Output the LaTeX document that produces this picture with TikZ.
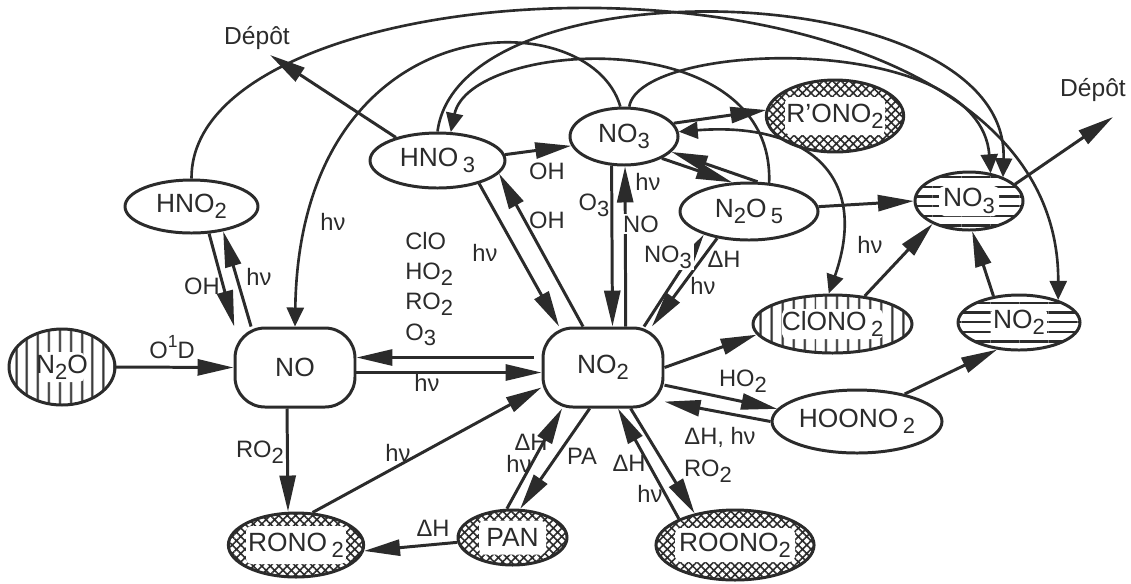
\documentclass[tikz,border=0pt]{standalone}
\usepackage{fontspec}
\setmainfont{Liberation Sans}
\usepackage{tikz}
\usetikzlibrary{arrows.meta, shapes.geometric, patterns.meta}
\definecolor{inkColor}{HTML}{2B2B2B}
\newcommand{\ixlow}[1]{\raisebox{-0.45ex}{\fontsize{12.5}{12.5}\selectfont #1}}
\newcommand{\ixhigh}[1]{\raisebox{0.85ex}{\fontsize{10}{10}\selectfont #1}}
\newcommand{\hnu}{hν}

\tikzset{
  species/.style={ellipse, draw=inkColor, line width=1.7pt, inner sep=0pt,
    text=inkColor, font=\fontsize{15}{17}\selectfont},
  pool/.style={rectangle, rounded corners=0.6cm, draw=inkColor, line width=1.7pt,
    minimum width=2.4cm, minimum height=1.58cm, text=inkColor,
    font=\fontsize{15}{17}\selectfont},
  vlines/.style={species, pattern={Lines[angle=90,distance=6.5pt,line width=1.3pt]},
    pattern color=inkColor},
  hlines/.style={species, pattern={Lines[angle=0,distance=5.5pt,line width=1.3pt]},
    pattern color=inkColor},
  xhatch/.style={species, pattern={Hatch[angle=45,distance=3.4pt,line width=0.9pt]},
    pattern color=inkColor},
  textgap/.style 2 args={path picture={\fill[white, rounded corners=3pt]
    ([xshift=-#1,yshift=-#2]path picture bounding box.center) rectangle
    ([xshift=#1,yshift=#2]path picture bounding box.center);}},
  arr/.style={draw=inkColor, line width=1.7pt, -{Triangle[length=0.72cm,width=0.32cm]}},
  carr/.style={draw=inkColor, line width=1.5pt, -{Triangle[length=0.38cm,width=0.34cm]}},
  lbl/.style={inner sep=0pt, text=inkColor, font=\fontsize{13.5}{15}\selectfont}
}

\begin{document}
\begin{tikzpicture}[x=0.02cm, y=-0.02cm]
    \useasboundingbox (0,0) rectangle (1131,583);

    % species
    \node[vlines, textgap={0.45cm}{0.3cm}, minimum width=2.12cm, minimum height=1.52cm] (n2o) at (62,367) {N\ixlow{2}O};
    \node[pool] (no) at (295,367.5) {NO};
    \node[pool] (no2) at (603,367.5) {NO\ixlow{2}};
    \node[species, minimum width=2.66cm, minimum height=1.06cm] (hno2) at (191.5,206.5) {HNO\ixlow{2}};
    \node[species, minimum width=2.7cm, minimum height=1.1cm] (hno3) at (437.5,160.5) {HNO\,\ixlow{3}};
    \node[species, minimum width=2.16cm, minimum height=1.14cm] (no3) at (624,136.5) {NO\ixlow{3}};
    \node[species, minimum width=2.76cm, minimum height=1.14cm] (n2o5) at (749,211.5) {N\ixlow{2}O\,\ixlow{5}};
    \node[xhatch, textgap={1.0cm}{0.38cm}, minimum width=2.72cm, minimum height=1.44cm] (ronoR) at (835,116) {R'ONO\ixlow{2}};
    \node[hlines, textgap={0.6cm}{0.3cm}, minimum width=2.16cm, minimum height=1.16cm] (no3aq) at (969,201) {NO\ixlow{3}};
    \node[vlines, textgap={1.01cm}{0.3cm}, minimum width=3.18cm, minimum height=1.16cm] (clono2) at (832.5,324) {ClONO\,\ixlow{2}};
    \node[hlines, textgap={0.56cm}{0.3cm}, minimum width=2.44cm, minimum height=1.1cm] (no2aq) at (1019,322.5) {NO\ixlow{2}};
    \node[species, minimum width=3.4cm, minimum height=1.26cm] (hoono2) at (857,421.5) {HOONO\,\ixlow{2}};
    \node[xhatch, textgap={1.0cm}{0.38cm}, minimum width=2.64cm, minimum height=1.28cm] (rono2) at (296,545) {RONO\,\ixlow{2}};
    \node[xhatch, textgap={0.67cm}{0.34cm}, minimum width=2.18cm, minimum height=1.1cm] (pan) at (512.5,537.5) {PAN};
    \node[xhatch, textgap={1.2cm}{0.34cm}, minimum width=2.92cm, minimum height=1.4cm] (roono2) at (735,545) {ROONO\ixlow{2}};

    \node[lbl, font=\fontsize{14}{16}\selectfont] (depL) at (257,38) {Dépôt};
    \node[lbl, font=\fontsize{14}{16}\selectfont] (depR) at (1093,90) {Dépôt};
    \coordinate (sinkL) at (270,55);
    \coordinate (sinkR) at (1113,117);

    % straight reactions
    \draw[arr] (n2o.east) -- (no.west);
    \draw[arr, shorten <=0.16cm] ([yshift=0.2cm]no2.west) -- ([yshift=0.2cm]no.east);
    \draw[arr] ([yshift=-0.1cm]no.east) -- ([yshift=-0.1cm]no2.west);
    \draw[arr] (hno2.-57) -- (no.146);
    \draw[arr] (no.137) -- (hno2.-38);
    \draw[arr] ([xshift=-0.16cm]no.south) -- ([xshift=-0.16cm]rono2.north);
    \draw[arr] (rono2.63) -- (no2.198);
    \draw[arr] (pan.185) -- (rono2.355);
    \draw[arr] (pan.101) -- (no2.225);
    \draw[arr] (no2.252) -- (pan.75);
    \draw[arr] (roono2.155) -- (no2.290);
    \draw[arr] (no2.304) -- (roono2.142);
    \draw[arr] (no2.344) -- (hoono2.171);
    \draw[arr] (hoono2.180) -- (no2.331);
    \draw[arr] (no2.east) -- (clono2.188);
    \draw[arr] (clono2.41) -- (no3aq.212);
    \draw[arr] (no2aq.134) -- (no3aq.276);
    \draw[arr] (hoono2.30) -- (no2aq.231);
    \draw[arr] (n2o5.4) -- (no3aq.180);
    \draw[arr] (no3aq.20) -- (sinkR);
    \draw[arr] (hno3.151) -- (sinkL);
    \draw[arr] (hno3.5) -- (no3.190);
    \draw[arr] (hno3.331) -- (no2.137);
    \draw[arr] (no2.116) -- (hno3.348);
    \draw[arr] (no3.247) -- (no2.77);
    \draw[arr] (no2.61) -- (no3.272);
    \draw[arr] (n2o5.74) -- (no3.342);
    \draw[arr] (no3.330) -- (n2o5.120);
    \draw[arr] (no2.45) -- (n2o5.207);
    \draw[arr] (n2o5.220) -- (no2.40);
    \draw[arr] (no3.15) -- (ronoR.175);

    % long curves over the top
    \draw[carr] (hno2.north) .. controls (190,-50) and (1060,-80) .. (no2aq.30);
    \draw[carr] (no3.97) .. controls (590,0) and (300,0) .. (no.north);
    \draw[carr] (hno3.north) .. controls (460,-40) and (1010,-25) .. (no3aq.35);
    \draw[carr] (no3.80) .. controls (640,40) and (980,30) .. (no3aq.52);
    \draw[carr] (n2o5.55) .. controls (775,20) and (470,40) .. (hno3.65);
    \draw[carr, {Triangle[length=0.38cm,width=0.34cm]}-{Triangle[length=0.38cm,width=0.34cm]}]
        (no3.5) .. controls (800,122) and (872,170) .. (clono2.97);

    % labels
    \foreach \tag/\px/\py in {a/259/277, b/333/222, c/427/383, d/398/453, e/519/464,
        f/650/494, g/485/253, h/648/182, i/703/286, j/870/245}
        \node[lbl] (hv\tag) at (\px,\py) {\hnu};
    \foreach \tag/\px/\py in {a/433/528, b/531/442, c/629/463, d/724/259}
        \node[lbl] (dh\tag) at (\px,\py) {ΔH};
    \node[lbl] (lO1D) at (172,347) {O\ixhigh{1}D};
    \node[lbl] (lOHa) at (202,286) {OH};
    \node[lbl] (lOHb) at (547,220) {OH};
    \node[lbl] (lOHc) at (547,171) {OH};
    \node[lbl] (lRO2a) at (260,452) {RO\ixlow{2}};
    \node[lbl] (lRO2b) at (708,471) {RO\ixlow{2}};
    \node[lbl] (lPA) at (582,456) {PA};
    \node[lbl] (lHO2) at (743,381) {HO\ixlow{2}};
    \node[lbl] (lDHhv) at (720,437) {ΔH, \hnu};
    \node[lbl] (lO3) at (594,205) {O\ixlow{3}};
    \node[lbl, fill=white, inner sep=1pt] (lNO) at (641,224) {NO};
    \node[lbl, fill=white, inner sep=1pt] (lNO3) at (668,257) {NO\ixlow{3}};
    \node[lbl, anchor=west, align=left, font=\fontsize{13.5}{17.2}\selectfont] (oxid) at (405,289)
        {ClO\\HO\ixlow{2}\\RO\ixlow{2}\\O\ixlow{3}};
\end{tikzpicture}
\end{document}
